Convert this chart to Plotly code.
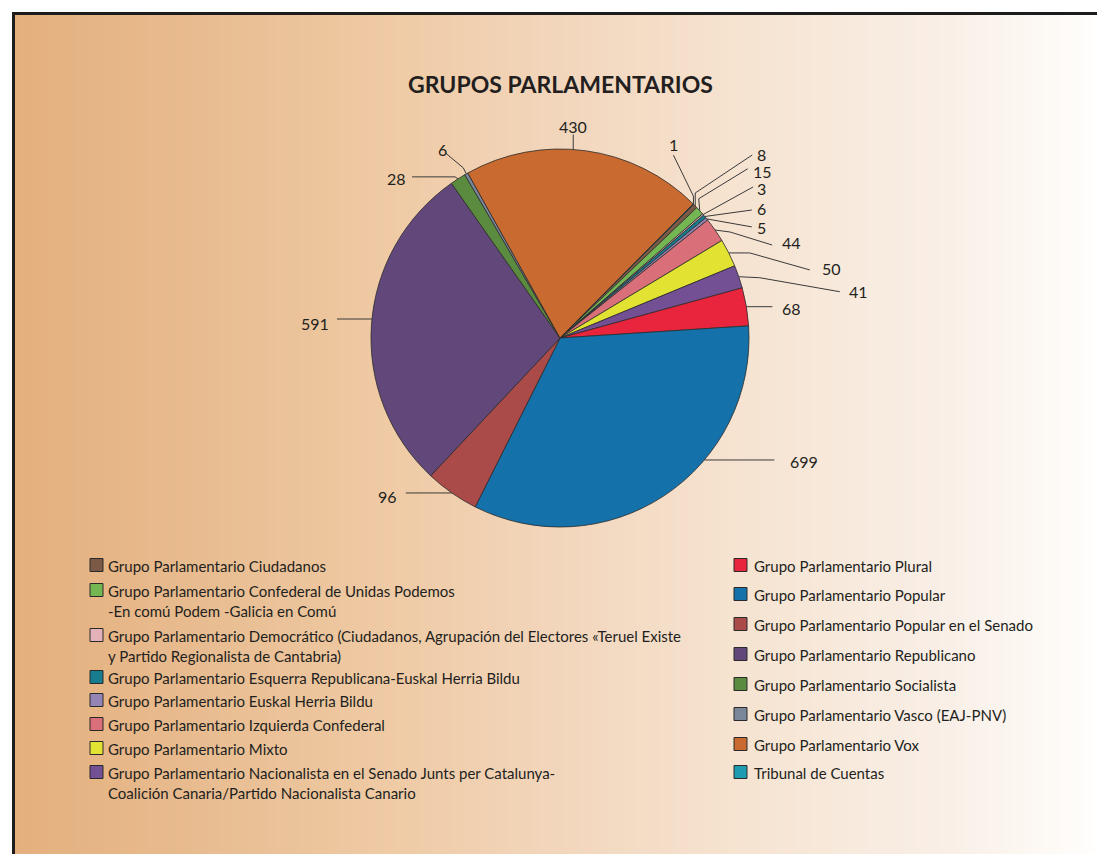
import math
import plotly.graph_objects as go

# ---------------- data ----------------
groups = [
    "Grupo Parlamentario Ciudadanos",
    "Grupo Parlamentario Confederal de Unidas Podemos<br>-En comú Podem -Galicia en Comú",
    "Grupo Parlamentario Democrático (Ciudadanos, Agrupación del Electores «Teruel Existe<br>y Partido Regionalista de Cantabria)",
    "Grupo Parlamentario Esquerra Republicana-Euskal Herria Bildu",
    "Grupo Parlamentario Euskal Herria Bildu",
    "Grupo Parlamentario Izquierda Confederal",
    "Grupo Parlamentario Mixto",
    "Grupo Parlamentario Nacionalista en el Senado Junts per Catalunya-<br>Coalición Canaria/Partido Nacionalista Canario",
    "Grupo Parlamentario Plural",
    "Grupo Parlamentario Popular",
    "Grupo Parlamentario Popular en el Senado",
    "Grupo Parlamentario Republicano",
    "Grupo Parlamentario Socialista",
    "Grupo Parlamentario Vasco (EAJ-PNV)",
    "Grupo Parlamentario Vox",
    "Tribunal de Cuentas",
]
values = [8, 15, 3, 6, 5, 44, 50, 41, 68, 699, 96, 591, 28, 6, 430, 1]
colors = [
    "#7A5A47", "#74B652", "#E2B2B8", "#167C8E", "#9585B6", "#D86F79",
    "#E2E232", "#734F94", "#E8253C", "#1471AA", "#AA4B4A", "#62487A",
    "#5B8B3E", "#7A879B", "#C96A31", "#1E9BAE",
]
title_text = "GRUPOS PARLAMENTARIOS"

# ---------------- layout constants ----------------
W, H = 1097, 854
CX, CY, R = 560, 338, 189
ROT = 45
FONT = "Lato, 'Open Sans', sans-serif"
INK = "#231F20"

# leader-line layout for every slice label (pixel offsets from the rim point)
lead_style = [
    dict(shift=0, pts=[(0, -13), (57, -51)], txt=(60, -53), anchor="left"),
    dict(shift=0, pts=[(-1, -12), (48, -42)], txt=(51, -41), anchor="left"),
    dict(shift=0, pts=[(50, -27.6)], txt=(52, -28), anchor="left"),
    dict(shift=0, pts=[(47, -6.5)], txt=(50, -9.5), anchor="left"),
    dict(shift=0, pts=[(45, 8)], txt=(48, 7), anchor="left"),
    dict(shift=0, pts=[(15, 2), (57, 15)], txt=(65, 11), anchor="left"),
    dict(shift=0, pts=[(21, 0), (81, 17)], txt=(91, 14), anchor="left"),
    dict(shift=0, pts=[(21, 1), (101, 15)], txt=(108, 13), anchor="left"),
    dict(shift=0, pts=[(26, 0)], txt=(34, 0), anchor="left"),
    dict(shift=-16.3, pts=[(70, 0)], txt=(84, 0), anchor="left"),
    dict(shift=0, pts=[(-46, 0)], txt=(-53, 2), anchor="right"),
    dict(shift=1.7, pts=[(-35, 0)], txt=(-41, 3), anchor="right"),
    dict(shift=0, pts=[(-3, -2), (-46, -2)], txt=(-50, -2), anchor="right"),
    dict(shift=0, pts=[(-3, -6), (-21, -21)], txt=(-24, -26), anchor="center"),
    dict(shift=-3.8, pts=[(0, -15)], txt=(0, -24), anchor="center"),
    dict(shift=0, pts=[(0, -8), (-20, -49)], txt=(-20, -61), anchor="center"),
]

# legend layout
LEFT_BOX_X, RIGHT_BOX_X, BOX = 90, 734, 13
LEFT_TXT_X, RIGHT_TXT_X = 106, 752
left_rows = [565, 590, 635, 677, 700, 724, 748, 772]
right_rows = [565, 594, 624, 654, 684, 714, 744, 772]
LINE_GAP = 19.5

fig = go.Figure()

# ---------------- background gradient ----------------
stops = [
    (12, (228, 175, 125)), (200, (232, 188, 144)), (400, (239, 203, 166)),
    (560, (242, 214, 188)), (750, (246, 228, 210)), (950, (249, 239, 231)),
    (1097, (255, 254, 252)),
]


def grad(x):
    for (x0, c0), (x1, c1) in zip(stops[:-1], stops[1:]):
        if x0 <= x <= x1:
            t = (x - x0) / (x1 - x0)
            return "rgb(%d,%d,%d)" % tuple(round(a + (b - a) * t) for a, b in zip(c0, c1))
    return "rgb(%d,%d,%d)" % stops[-1][1]


shapes = []
STEP = 4
x = 12
while x < W:
    shapes.append(dict(type="rect", xref="x", yref="y", x0=x, x1=min(x + STEP + 0.6, W),
                       y0=12, y1=H, fillcolor=grad(x + STEP / 2), line=dict(width=0),
                       layer="below"))
    x += STEP
# frame (top and left edges)
shapes.append(dict(type="line", xref="x", yref="y", x0=12, x1=W, y0=13.5, y1=13.5,
                   line=dict(color="#1c1c1c", width=3), layer="below"))
shapes.append(dict(type="line", xref="x", yref="y", x0=13.5, x1=13.5, y0=12, y1=H,
                   line=dict(color="#1c1c1c", width=3), layer="below"))

# ---------------- pie ----------------
fig.add_trace(go.Pie(
    values=values, labels=[g.replace("<br>", " ") for g in groups],
    marker=dict(colors=colors, line=dict(color="#2b2b2b", width=0.8)),
    sort=False, direction="clockwise", rotation=ROT, textinfo="none",
    showlegend=False, hoverinfo="label+value",
    domain=dict(x=[(CX - R) / W, (CX + R) / W], y=[1 - (CY + R) / H, 1 - (CY - R) / H]),
))

# ---------------- leader lines and value labels ----------------
annotations = []
total = sum(values)
cum = 0
for v, st in zip(values, lead_style):
    mid = ROT + (cum + v / 2) / total * 360 + st["shift"]
    cum += v
    a = math.radians(mid)
    rx, ry = CX + R * math.sin(a), CY - R * math.cos(a)
    xs = [rx] + [rx + dx for dx, dy in st["pts"]]
    ys = [ry] + [ry + dy for dx, dy in st["pts"]]
    fig.add_trace(go.Scatter(x=xs, y=ys, mode="lines", line=dict(color="#3a3a3a", width=1),
                             hoverinfo="skip", showlegend=False))
    tx, ty = rx + st["txt"][0], ry + st["txt"][1] + 1.5
    annotations.append(dict(x=tx, y=ty, xref="x", yref="y", text=str(v), showarrow=False,
                            xanchor=st["anchor"], yanchor="middle",
                            font=dict(family=FONT, size=16, color=INK)))

# ---------------- title ----------------
annotations.append(dict(x=CX, y=84, xref="x", yref="y", text="<b>%s</b>" % title_text,
                        showarrow=False, xanchor="center", yanchor="middle",
                        font=dict(family=FONT, size=23, color=INK)))

# ---------------- legend ----------------
for i, (g, c) in enumerate(zip(groups, colors)):
    if i < 8:
        bx, tx, cy = LEFT_BOX_X, LEFT_TXT_X, left_rows[i]
    else:
        bx, tx, cy = RIGHT_BOX_X, RIGHT_TXT_X, right_rows[i - 8]
    shapes.append(dict(type="rect", xref="x", yref="y", x0=bx, x1=bx + BOX,
                       y0=cy - BOX / 2, y1=cy + BOX / 2, fillcolor=c,
                       line=dict(color="#2a2a2a", width=1)))
    for k, line in enumerate(g.split("<br>")):
        annotations.append(dict(x=tx, y=cy + 1 + k * LINE_GAP, xref="x", yref="y", text=line,
                                showarrow=False, xanchor="left", yanchor="middle",
                                font=dict(family=FONT, size=15, color=INK)))

fig.update_layout(
    width=W, height=H, margin=dict(l=0, r=0, t=0, b=0),
    paper_bgcolor="white", plot_bgcolor="rgba(0,0,0,0)",
    xaxis=dict(range=[0, W], visible=False, fixedrange=True, domain=[0, 1]),
    yaxis=dict(range=[H, 0], visible=False, fixedrange=True, domain=[0, 1]),
    shapes=shapes, annotations=annotations, showlegend=False,
)

fig.write_html(
    "out.html",
    config={"displayModeBar": False},
    post_script="document.body.style.margin='0';document.body.style.overflow='hidden';",
)
